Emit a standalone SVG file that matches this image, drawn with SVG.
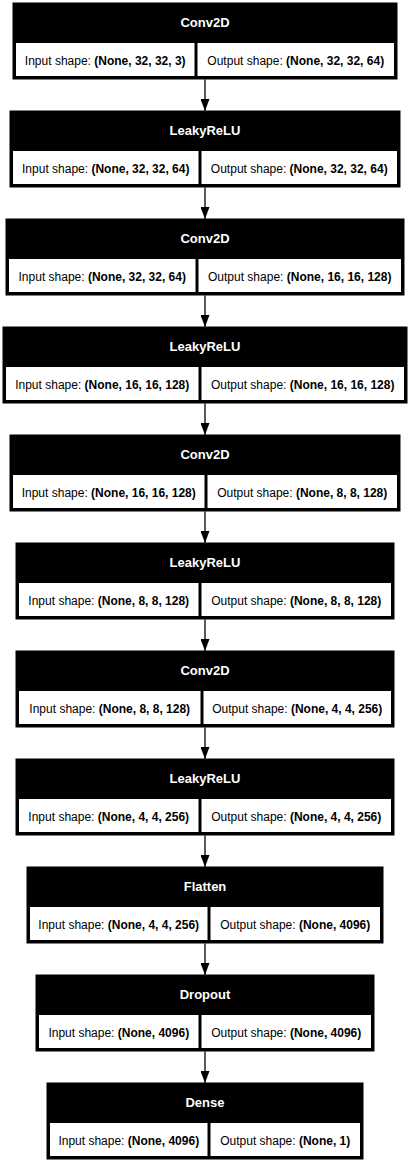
<svg xmlns="http://www.w3.org/2000/svg" width="410" height="1163" viewBox="0 0 410 1163">
<defs>
<style>
.outer{fill:#000;stroke:#000;stroke-width:1}
.cell{fill:#fff}
.hdr{font-family:"Liberation Sans",Arial,sans-serif;font-size:13px;font-weight:bold;fill:#fff;text-anchor:middle}
.txt{font-family:"Liberation Sans",Arial,sans-serif;font-size:12px;fill:#000;text-anchor:middle}
.b{font-weight:bold}
.edge{stroke:#000;stroke-width:1.3;fill:none}
</style>
<marker id="ah" markerWidth="12" markerHeight="9" refX="12" refY="4.5" orient="auto" markerUnits="userSpaceOnUse" viewBox="0 0 12 9">
<path d="M0,0 L12,4.5 L0,9 Z" fill="#000"/>
</marker>
</defs>
<rect width="410" height="1163" fill="#fff"/>
<g id="node1">
<rect class="outer" x="13" y="3" width="384" height="76"/>
<rect class="cell" x="16" y="43" width="178.5" height="33"/>
<rect class="cell" x="197.5" y="43" width="196.5" height="33"/>
<text class="hdr" x="205" y="26.5">Conv2D</text>
<text class="txt" x="105.25" y="64.5">Input shape: <tspan class="b">(None, 32, 32, 3)</tspan></text>
<text class="txt" x="295.75" y="64.5">Output shape: <tspan class="b">(None, 32, 32, 64)</tspan></text>
</g>
<g id="node2">
<rect class="outer" x="10" y="111" width="390" height="76"/>
<rect class="cell" x="13" y="151" width="185.5" height="33"/>
<rect class="cell" x="201.5" y="151" width="195.5" height="33"/>
<text class="hdr" x="205" y="134.5">LeakyReLU</text>
<text class="txt" x="105.75" y="172.5">Input shape: <tspan class="b">(None, 32, 32, 64)</tspan></text>
<text class="txt" x="299.25" y="172.5">Output shape: <tspan class="b">(None, 32, 32, 64)</tspan></text>
</g>
<g id="node3">
<rect class="outer" x="6" y="219" width="398" height="76"/>
<rect class="cell" x="9" y="259" width="186.5" height="33"/>
<rect class="cell" x="198.5" y="259" width="202.5" height="33"/>
<text class="hdr" x="205" y="242.5">Conv2D</text>
<text class="txt" x="102.25" y="280.5">Input shape: <tspan class="b">(None, 32, 32, 64)</tspan></text>
<text class="txt" x="299.75" y="280.5">Output shape: <tspan class="b">(None, 16, 16, 128)</tspan></text>
</g>
<g id="node4">
<rect class="outer" x="3" y="327" width="404" height="76"/>
<rect class="cell" x="6" y="367" width="192.5" height="33"/>
<rect class="cell" x="201.5" y="367" width="202.5" height="33"/>
<text class="hdr" x="205" y="350.5">LeakyReLU</text>
<text class="txt" x="102.25" y="388.5">Input shape: <tspan class="b">(None, 16, 16, 128)</tspan></text>
<text class="txt" x="302.75" y="388.5">Output shape: <tspan class="b">(None, 16, 16, 128)</tspan></text>
</g>
<g id="node5">
<rect class="outer" x="10" y="435" width="390" height="76"/>
<rect class="cell" x="13" y="475" width="191.5" height="33"/>
<rect class="cell" x="207.5" y="475" width="189.5" height="33"/>
<text class="hdr" x="205" y="458.5">Conv2D</text>
<text class="txt" x="108.75" y="496.5">Input shape: <tspan class="b">(None, 16, 16, 128)</tspan></text>
<text class="txt" x="302.25" y="496.5">Output shape: <tspan class="b">(None, 8, 8, 128)</tspan></text>
</g>
<g id="node6">
<rect class="outer" x="16" y="543" width="378" height="76"/>
<rect class="cell" x="19" y="583" width="179.5" height="33"/>
<rect class="cell" x="201.5" y="583" width="189.5" height="33"/>
<text class="hdr" x="205" y="566.5">LeakyReLU</text>
<text class="txt" x="108.75" y="604.5">Input shape: <tspan class="b">(None, 8, 8, 128)</tspan></text>
<text class="txt" x="296.25" y="604.5">Output shape: <tspan class="b">(None, 8, 8, 128)</tspan></text>
</g>
<g id="node7">
<rect class="outer" x="16" y="651" width="378" height="76"/>
<rect class="cell" x="19" y="691" width="181.5" height="33"/>
<rect class="cell" x="203.5" y="691" width="187.5" height="33"/>
<text class="hdr" x="205" y="674.5">Conv2D</text>
<text class="txt" x="109.75" y="712.5">Input shape: <tspan class="b">(None, 8, 8, 128)</tspan></text>
<text class="txt" x="297.25" y="712.5">Output shape: <tspan class="b">(None, 4, 4, 256)</tspan></text>
</g>
<g id="node8">
<rect class="outer" x="16" y="759" width="378" height="76"/>
<rect class="cell" x="19" y="799" width="179.5" height="33"/>
<rect class="cell" x="201.5" y="799" width="189.5" height="33"/>
<text class="hdr" x="205" y="782.5">LeakyReLU</text>
<text class="txt" x="108.75" y="820.5">Input shape: <tspan class="b">(None, 4, 4, 256)</tspan></text>
<text class="txt" x="296.25" y="820.5">Output shape: <tspan class="b">(None, 4, 4, 256)</tspan></text>
</g>
<g id="node9">
<rect class="outer" x="27" y="867" width="356" height="76"/>
<rect class="cell" x="30" y="907" width="177.5" height="33"/>
<rect class="cell" x="210.5" y="907" width="169.5" height="33"/>
<text class="hdr" x="205" y="890.5">Flatten</text>
<text class="txt" x="118.75" y="928.5">Input shape: <tspan class="b">(None, 4, 4, 256)</tspan></text>
<text class="txt" x="295.25" y="928.5">Output shape: <tspan class="b">(None, 4096)</tspan></text>
</g>
<g id="node10">
<rect class="outer" x="36" y="975" width="338" height="76"/>
<rect class="cell" x="39" y="1015" width="159.5" height="33"/>
<rect class="cell" x="201.5" y="1015" width="169.5" height="33"/>
<text class="hdr" x="205" y="998.5">Dropout</text>
<text class="txt" x="118.75" y="1036.5">Input shape: <tspan class="b">(None, 4096)</tspan></text>
<text class="txt" x="286.25" y="1036.5">Output shape: <tspan class="b">(None, 4096)</tspan></text>
</g>
<g id="node11">
<rect class="outer" x="47" y="1083" width="316" height="76"/>
<rect class="cell" x="50" y="1123" width="157.5" height="33"/>
<rect class="cell" x="210.5" y="1123" width="149.5" height="33"/>
<text class="hdr" x="205" y="1106.5">Dense</text>
<text class="txt" x="128.75" y="1144.5">Input shape: <tspan class="b">(None, 4096)</tspan></text>
<text class="txt" x="285.25" y="1144.5">Output shape: <tspan class="b">(None, 1)</tspan></text>
</g>
<g id="connectors">
<line class="edge" x1="205" y1="79.5" x2="205" y2="111" marker-end="url(#ah)"/>
<line class="edge" x1="205" y1="187.5" x2="205" y2="219" marker-end="url(#ah)"/>
<line class="edge" x1="205" y1="295.5" x2="205" y2="327" marker-end="url(#ah)"/>
<line class="edge" x1="205" y1="403.5" x2="205" y2="435" marker-end="url(#ah)"/>
<line class="edge" x1="205" y1="511.5" x2="205" y2="543" marker-end="url(#ah)"/>
<line class="edge" x1="205" y1="619.5" x2="205" y2="651" marker-end="url(#ah)"/>
<line class="edge" x1="205" y1="727.5" x2="205" y2="759" marker-end="url(#ah)"/>
<line class="edge" x1="205" y1="835.5" x2="205" y2="867" marker-end="url(#ah)"/>
<line class="edge" x1="205" y1="943.5" x2="205" y2="975" marker-end="url(#ah)"/>
<line class="edge" x1="205" y1="1051.5" x2="205" y2="1083" marker-end="url(#ah)"/>
</g>
</svg>
